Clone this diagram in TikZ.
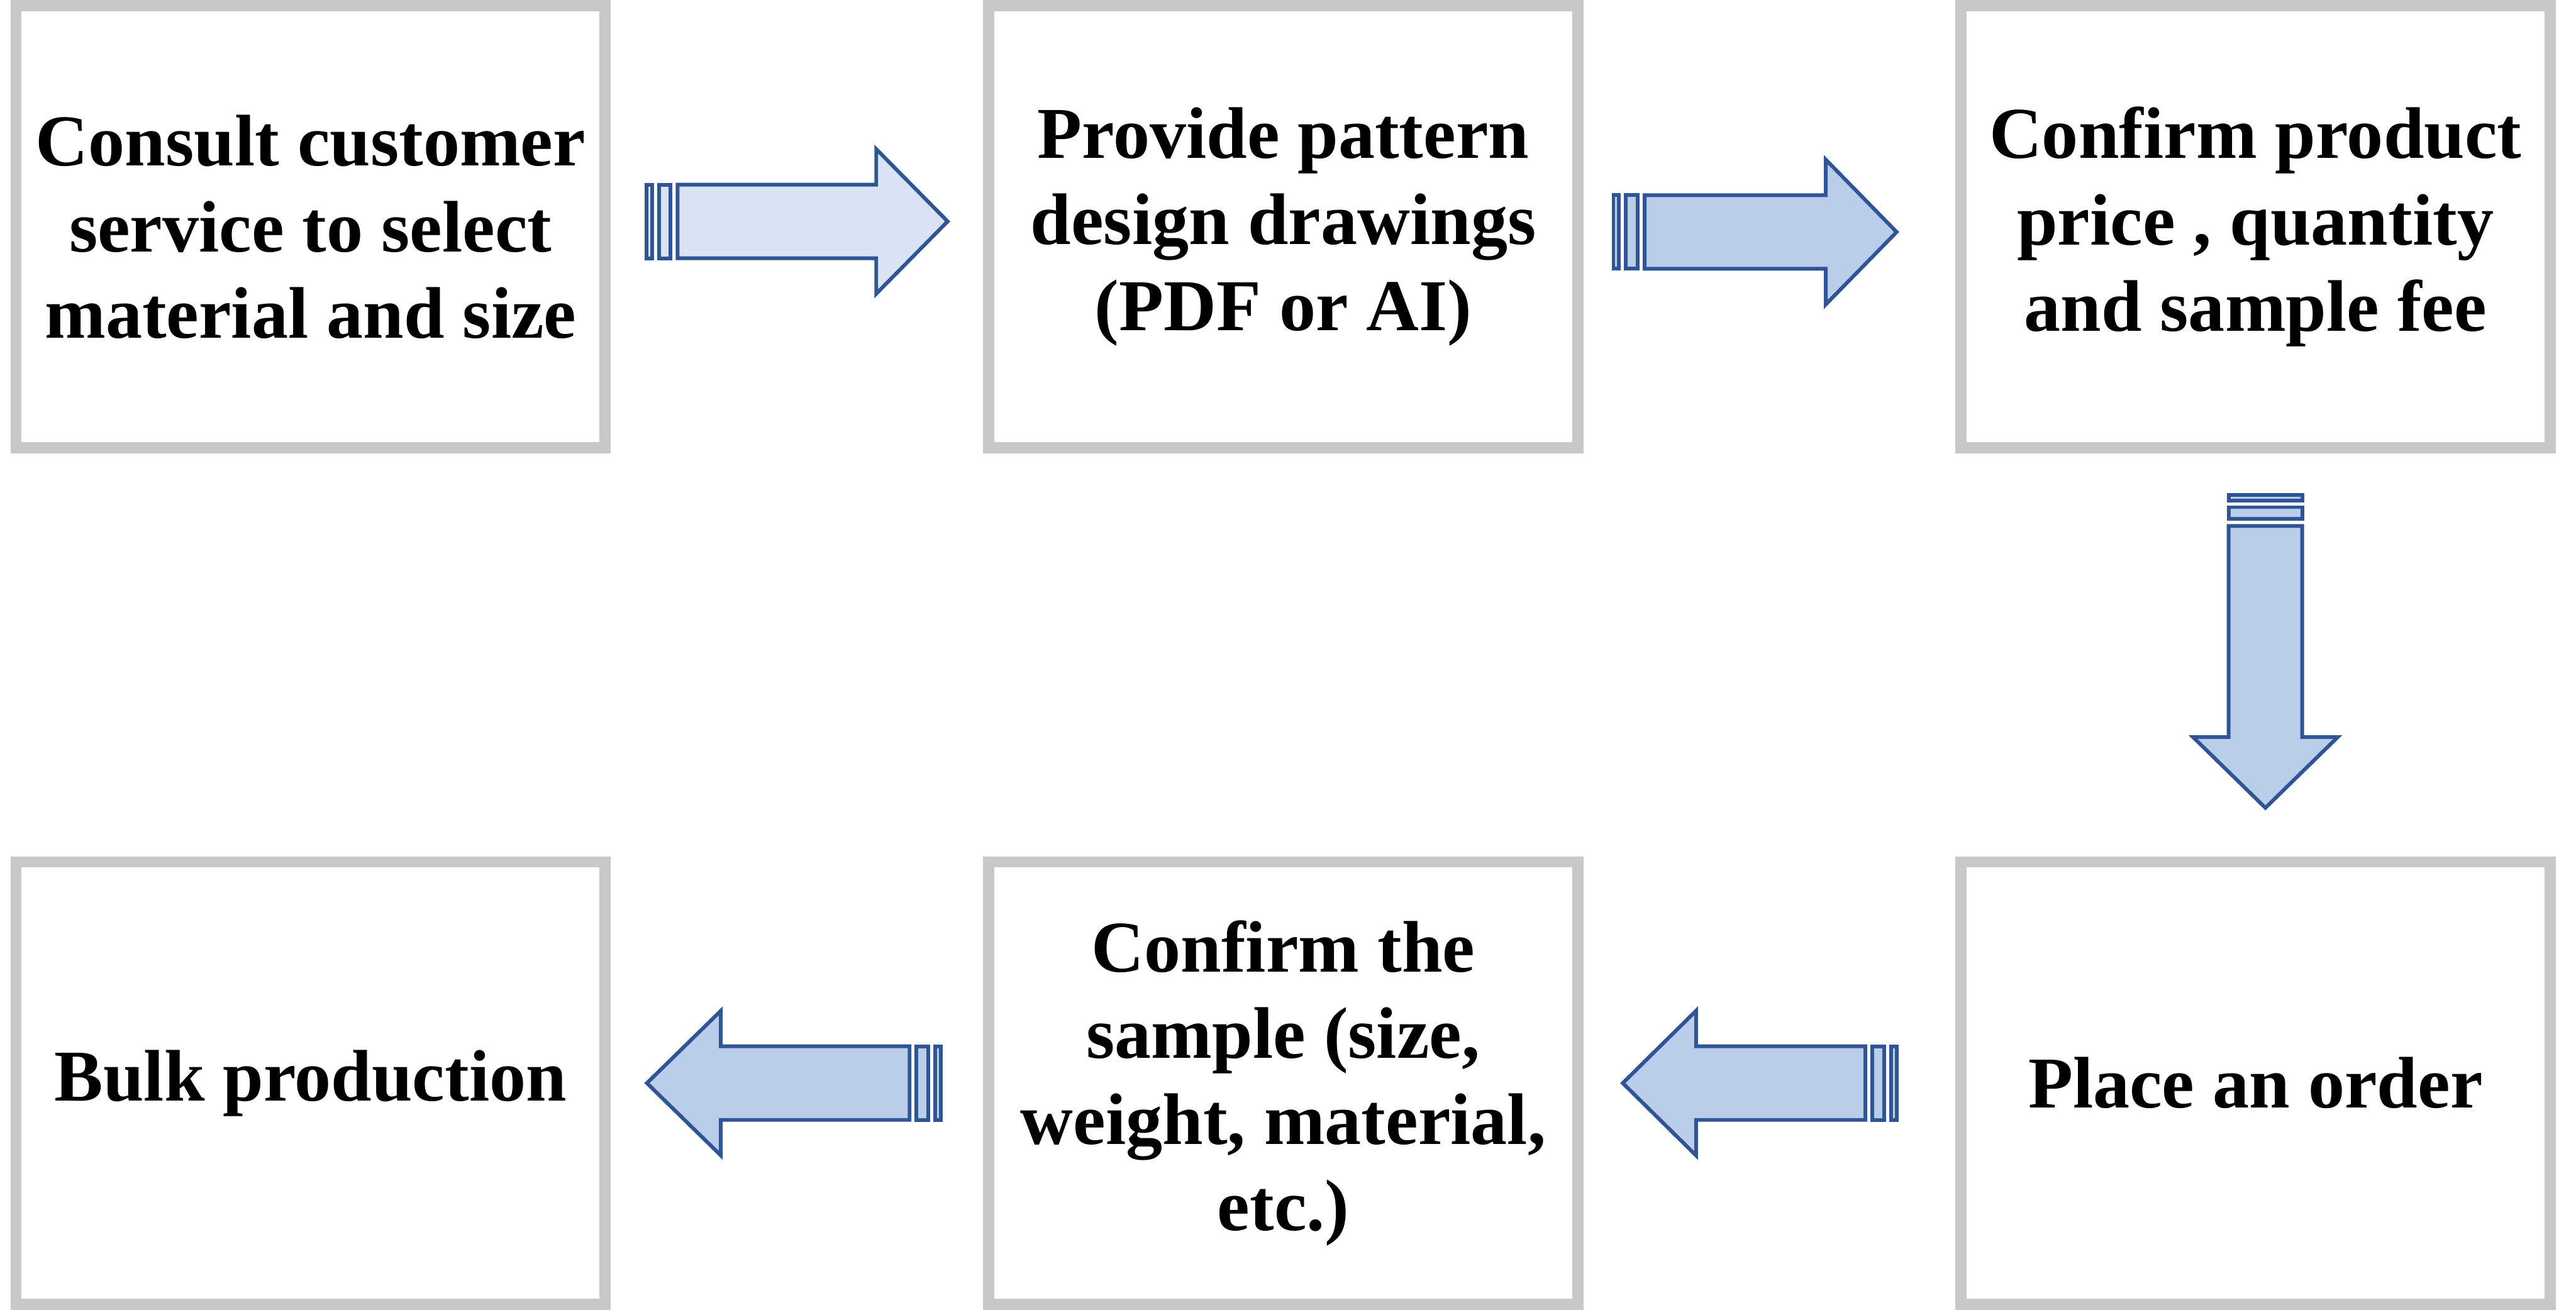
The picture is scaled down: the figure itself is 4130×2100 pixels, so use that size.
\documentclass[tikz,border=0pt]{standalone}
\usepackage{fontspec}
\setmainfont{Liberation Serif}
\usetikzlibrary{calc}

\definecolor{boxgray}{RGB}{200,200,200}
\definecolor{arrowblue}{HTML}{2F5597}
\definecolor{paleblue}{HTML}{DAE3F3}
\definecolor{lightblue}{RGB}{187,206,233}

\tikzset{
  stepbox/.style={draw=boxgray,line width=0.18cm,minimum width=9.44cm,minimum height=7.09cm,
    align=center,font=\bfseries\fontsize{33.3}{39.3}\selectfont},
  arrowline/.style={draw=arrowblue,line width=0.06cm,line join=miter},
  pics/stripearrow/.style args={#1/#2/#3}{code={
    \draw[arrowline,fill=#3](3,-59)rectangle(12,59);
    \draw[arrowline,fill=#3](23,-59)rectangle(42,59);
    \draw[arrowline,fill=#3](53,-59)--(#2,-59)--(#2,-116)--(#1,0)--(#2,116)--(#2,59)--(53,59)--cycle;
  }}
}

\begin{document}
\begin{tikzpicture}[x=0.01cm,y=-0.01cm]
        \useasboundingbox(0,0)rectangle(4130,2100);
        \node[stepbox](consult)at(498,363.5){Consult customer\\service to select\\material and size};
        \node[stepbox](design)at(2057.5,363.5){Provide pattern\\design drawings\\(PDF or AI)};
        \node[stepbox](confirmprice)at(3616,363.5){Confirm product\\price , quantity\\and sample fee};
        \node[stepbox](placeorder)at(3616,1736.5){Place an order};
        \node[stepbox](confirmsample)at(2057.5,1736.5){Confirm the\\sample (size,\\weight, material,\\etc.)};
        \node[stepbox](bulk)at(498,1736.5){Bulk production};
        \pic at($(consult.east)+(54,-8.5)$){stripearrow=486/371.5/paleblue};
        \pic at($(design.east)+(45,8.5)$){stripearrow=457/343.5/lightblue};
        \pic[rotate=-90] at($(confirmprice.south)+(16,63)$){stripearrow=505/391.5/lightblue};
        \pic[rotate=180] at($(placeorder.west)+(-91,0)$){stripearrow=442/324.5/lightblue};
        \pic[rotate=180] at($(confirmsample.west)+(-65,0)$){stripearrow=474/355.5/lightblue};
    \end{tikzpicture}
\end{document}
